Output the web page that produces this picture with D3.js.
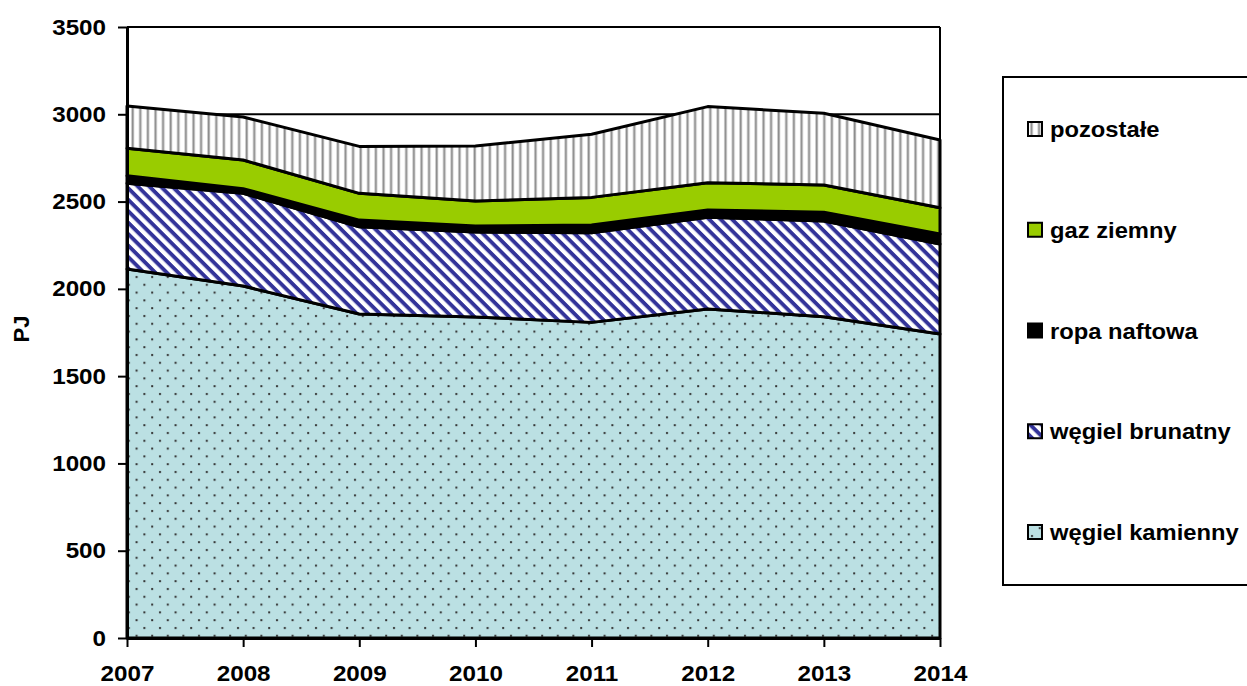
<!DOCTYPE html>
<html lang="pl">
<head>
<meta charset="UTF-8">
<title>PJ</title>
<style>
  body { margin: 0; background: #fff; }
  text { font-family: Arial, "Liberation Sans", sans-serif; font-weight: bold; fill: #000; }
</style>
</head>
<body>
<script src="https://d3js.org/d3.v7.min.js"></script>
<div id="chart"></div>
<script>
// dane (PJ)
var years = [2007, 2008, 2009, 2010, 2011, 2012, 2013, 2014];
var wegielKamienny = [2114, 2016, 1856, 1839, 1808, 1885, 1840, 1741];
var wegielBrunatny = [491, 531, 500, 487, 514, 525, 549, 516];
var ropaNaftowa   = [43, 27, 38, 34, 44, 42, 50, 57];
var gazZiemny     = [158, 164, 153, 143, 158, 156, 156, 151];
var pozostale     = [241, 246, 269, 315, 362, 436, 411, 388];
var yTicks = [0, 500, 1000, 1500, 2000, 2500, 3000, 3500];

var keys = ["kam", "bru", "ropa", "gaz", "poz"];
var labels = {
    kam: "węgiel kamienny",
    bru: "węgiel brunatny",
    ropa: "ropa naftowa",
    gaz: "gaz ziemny",
    poz: "pozostałe"
};
var fills = {
    kam: "url(#dots)",
    bru: "url(#stripes)",
    ropa: "#000",
    gaz: "#99cc00",
    poz: "url(#vlines)"
};

var table = years.map(function(y, i) {
    return {
        year: y,
        kam: wegielKamienny[i],
        bru: wegielBrunatny[i],
        ropa: ropaNaftowa[i],
        gaz: gazZiemny[i],
        poz: pozostale[i]
    };
});

var W = 1247, H = 686;
var pLeft = 127, pRight = 940, pTop = 27, pBottom = 638;
var sx = 1.1; // tekst jest lekko rozciągnięty w poziomie

var svg = d3.select("#chart").append("svg")
    .attr("width", W)
    .attr("height", H);

// wzory wypełnień
var defs = svg.append("defs");

var dots = defs.append("pattern")
    .attr("id", "dots")
    .attr("patternUnits", "userSpaceOnUse")
    .attr("width", 15.6)
    .attr("height", 15.6);
dots.append("rect").attr("width", 15.6).attr("height", 15.6).attr("fill", "#bbe0e3");
dots.append("rect").attr("x", 3).attr("y", 3).attr("width", 2).attr("height", 2).attr("fill", "#333");
dots.append("rect").attr("x", 10.8).attr("y", 10.8).attr("width", 2).attr("height", 2).attr("fill", "#333");

var stripes = defs.append("pattern")
    .attr("id", "stripes")
    .attr("patternUnits", "userSpaceOnUse")
    .attr("width", 8.1)
    .attr("height", 8.1)
    .attr("patternTransform", "rotate(45)");
stripes.append("rect").attr("width", 8.1).attr("height", 8.1).attr("fill", "#fff");
stripes.append("rect").attr("width", 8.1).attr("height", 3.9).attr("fill", "#333399");

var vlines = defs.append("pattern")
    .attr("id", "vlines")
    .attr("patternUnits", "userSpaceOnUse")
    .attr("width", 7.6)
    .attr("height", 10);
vlines.append("rect").attr("width", 7.6).attr("height", 10).attr("fill", "#fff");
vlines.append("rect").attr("x", 2).attr("width", 3).attr("height", 10).attr("fill", "#c8c8c8");
vlines.append("rect").attr("x", 2.8).attr("width", 1.4).attr("height", 10).attr("fill", "#8c8c8c");

// skale
var x = d3.scaleLinear().domain([2007, 2014]).range([pLeft, pRight]);
var y = d3.scaleLinear().domain([0, 3500]).range([pBottom, pTop]);

// linie siatki
svg.append("g")
    .selectAll("line")
    .data(yTicks)
    .enter()
    .append("line")
    .attr("x1", pLeft)
    .attr("x2", pRight)
    .attr("y1", function(d) { return y(d); })
    .attr("y2", function(d) { return y(d); })
    .attr("stroke", "#000")
    .attr("stroke-width", 2);

// warstwy
var series = d3.stack().keys(keys)(table);
var area = d3.area()
    .x(function(d) { return x(d.data.year); })
    .y0(function(d) { return y(d[0]); })
    .y1(function(d) { return y(d[1]); });

svg.append("g")
    .selectAll("path")
    .data(series)
    .enter()
    .append("path")
    .attr("d", area)
    .attr("fill", function(d) { return fills[d.key]; })
    .attr("stroke", "#000")
    .attr("stroke-width", 3)
    .attr("stroke-linejoin", "round");

// ramka obszaru wykresu
svg.append("line")
    .attr("x1", pRight).attr("x2", pRight)
    .attr("y1", pTop).attr("y2", pBottom)
    .attr("stroke", "#000").attr("stroke-width", 2);
svg.append("line")
    .attr("x1", pLeft).attr("x2", pRight)
    .attr("y1", pTop).attr("y2", pTop)
    .attr("stroke", "#000").attr("stroke-width", 2);

// oś Y
var yAxis = svg.append("g")
    .attr("transform", "translate(" + pLeft + ",0)")
    .call(d3.axisLeft(y).tickValues(yTicks).tickFormat(d3.format("d")).tickSize(9).tickSizeOuter(0));
yAxis.select(".domain").attr("stroke-width", 3);
yAxis.selectAll(".tick line").attr("stroke-width", 2);
yAxis.selectAll(".tick text")
    .style("font-size", "22px")
    .attr("x", -21 / sx)
    .attr("transform", "scale(" + sx + ",1)");

// oś X
var xAxis = svg.append("g")
    .attr("transform", "translate(0," + pBottom + ")")
    .call(d3.axisBottom(x).tickValues(years).tickFormat(d3.format("d")).tickSize(9).tickSizeOuter(0));
xAxis.select(".domain").attr("stroke-width", 3);
xAxis.selectAll(".tick line").attr("stroke-width", 2);
xAxis.selectAll(".tick text")
    .style("font-size", "22px")
    .attr("y", 43)
    .attr("dy", 0)
    .attr("transform", "scale(" + sx + ",1)");

// tytuł osi Y
svg.append("text")
    .attr("transform", "translate(29,329) rotate(-90)")
    .attr("text-anchor", "middle")
    .style("font-size", "22px")
    .text("PJ");

// legenda
var legend = svg.append("g");
legend.append("rect")
    .attr("x", 1003)
    .attr("y", 77)
    .attr("width", 260)
    .attr("height", 508)
    .attr("fill", "#fff")
    .attr("stroke", "#000")
    .attr("stroke-width", 2);

var legendKeys = keys.slice().reverse();
var ly = d3.scalePoint().domain(legendKeys).range([129, 532]);

var items = legend.selectAll(".item")
    .data(legendKeys)
    .enter()
    .append("g")
    .attr("class", "item")
    .attr("transform", function(d) { return "translate(1028," + ly(d) + ")"; });

items.append("rect")
    .attr("x", 0)
    .attr("y", -7)
    .attr("width", 14)
    .attr("height", 14)
    .attr("fill", function(d) { return fills[d]; })
    .attr("stroke", "#000")
    .attr("stroke-width", 2);

items.append("text")
    .attr("transform", "translate(22,8) scale(1.08,1)")
    .style("font-size", "22px")
    .text(function(d) { return labels[d]; });
</script>
</body>
</html>
